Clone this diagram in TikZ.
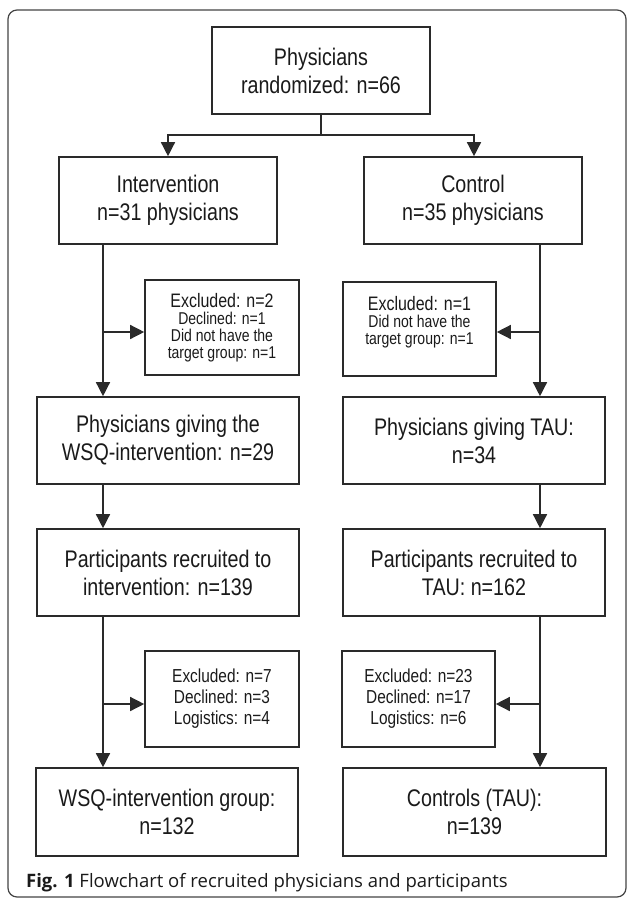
\documentclass[tikz,border=0pt]{standalone}
\usepackage{fontspec}
\setmainfont{Liberation Sans}[FakeStretch=0.82]
\newfontfamily\capfont{Open Sans}
\usetikzlibrary{arrows.meta,calc}
\definecolor{boxcol}{HTML}{2A2A2A}
\definecolor{txtcol}{HTML}{1A1A1A}
\definecolor{framecol}{HTML}{444444}
\begin{document}
\begin{tikzpicture}[x=1pt,y=-1pt,
  box/.style={draw=boxcol, line width=1.6pt, rectangle, inner sep=0pt, align=center,
    text=txtcol, font=\fontsize{24}{28}\selectfont},
  exclA/.style={box, font=\fontsize{17.1}{17}\selectfont},
  exclB/.style={box, font=\fontsize{18.8}{21}\selectfont},
  plaintext/.style={inner sep=0pt, align=center, text=txtcol},
  arr/.style={draw=boxcol, line width=1.4pt, -{Triangle[length=14pt,width=14pt]}},
  ln/.style={draw=boxcol, line width=1.4pt}]
\useasboundingbox (0,0) rectangle (627,900);
\draw[framecol, line width=1.2pt, rounded corners=9pt] (8,10) rectangle (626,897);

\node[box, minimum width=218pt, minimum height=87pt] (top) at (321,70.5) {Physicians\\randomized: n=66};
\node[box, minimum width=218pt, minimum height=87pt] (int) at (168,200.5) {Intervention\\n=31 physicians};
\node[box, minimum width=218pt, minimum height=87pt] (ctl) at (473,200.5) {Control\\n=35 physicians};

\node[exclA, minimum width=154pt, minimum height=95pt] (e1l) at (222,327.5)
  {{\fontsize{19.5}{17}\selectfont Excluded: n=2}\\Declined: n=1\\Did not have the\\target group: n=1};
\node[exclA, minimum width=153pt, minimum height=94pt] (e1r) at (419.5,329) {};
\node[plaintext, font=\fontsize{17.1}{17}\selectfont] (e1rt) at (419.5,322.5)
  {{\fontsize{19.5}{17}\selectfont Excluded: n=1}\\Did not have the\\target group: n=1};

\node[box, minimum width=262pt, minimum height=87pt] (pl) at (168,440.5) {Physicians giving the\\WSQ-intervention: n=29};
\node[box, minimum width=262pt, minimum height=87pt] (pr) at (474,440.5) {Physicians giving TAU:\\n=34};

\node[box, minimum width=262pt, minimum height=87pt] (ql) at (168,572.5) {Participants recruited to\\intervention: n=139};
\node[box, minimum width=262pt, minimum height=87pt] (qr) at (474,572.5) {Participants recruited to\\TAU: n=162};

\node[exclB, minimum width=154pt, minimum height=96pt] (e2l) at (222,699) {Excluded: n=7\\Declined: n=3\\Logistics: n=4};
\node[exclB, minimum width=153pt, minimum height=96pt] (e2r) at (418.5,699) {Excluded: n=23\\Declined: n=17\\Logistics: n=6};

\node[box, minimum width=262pt, minimum height=88pt] (fl) at (167,812) {WSQ-intervention group:\\n=132};
\node[box, minimum width=263pt, minimum height=88pt] (fr) at (474.5,812) {Controls (TAU):\\n=139};

\node[anchor=west, inner sep=0pt, text=txtcol, font=\capfont\fontsize{18.5}{22}\selectfont] (cap) at (26,883)
  {\textbf{Fig. 1} Flowchart of recruited physicians and participants};

% connectors
\coordinate (split) at (321,135);
\draw[ln] (top.south) -- (split);
\draw[arr] (split) -| (int.north);
\draw[arr] (split) -| ($(ctl.north)+(1,0)$);

\coordinate (lx) at (103,0);
\coordinate (rx) at (540,0);
\coordinate (a1) at (103,332);
\coordinate (b1) at (540,332);
\coordinate (a2) at (103,704);
\coordinate (b2) at (540,704);

\draw[arr] (int.south -| lx) -- (pl.north -| lx);
\draw[arr] (a1) -- (a1 -| e1l.west);
\draw[arr] (ctl.south -| rx) -- (pr.north -| rx);
\draw[arr] (b1) -- (b1 -| e1r.east);

\draw[arr] (pl.south -| lx) -- (ql.north -| lx);
\draw[arr] (pr.south -| rx) -- (qr.north -| rx);

\draw[arr] (ql.south -| lx) -- (fl.north -| lx);
\draw[arr] (a2) -- (a2 -| e2l.west);
\draw[arr] (qr.south -| rx) -- (fr.north -| rx);
\draw[arr] (b2) -- (b2 -| e2r.east);
\end{tikzpicture}
\end{document}
